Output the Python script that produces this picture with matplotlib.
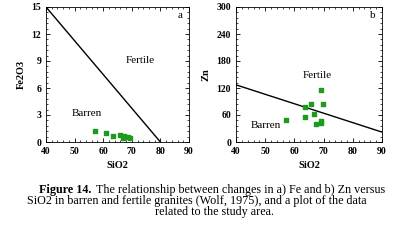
import matplotlib
matplotlib.use("Agg")
import matplotlib.pyplot as plt
from matplotlib.ticker import AutoMinorLocator

plt.rcParams['font.family'] = ['Liberation Serif', 'DejaVu Serif']

# panel a: Fe2O3 vs SiO2
fe_sio2 = [57, 61, 63.5, 65.7, 66.8, 67.2, 68.8, 69.3]
fe_vals = [1.2, 1.0, 0.7, 0.75, 0.5, 0.7, 0.6, 0.45]
fe_line_x = [40, 80]
fe_line_y = [15, 0]

# panel b: Zn vs SiO2
zn_sio2 = [57, 63.5, 63.5, 65.8, 66.8, 67.3, 69, 69.2, 69.2, 69.8]
zn_vals = [50, 77, 55, 85, 63, 39, 115, 46, 42, 85]
zn_line_x = [40, 90]
zn_line_y = [127, 22]

fig = plt.figure(figsize=(4.06, 2.41), dpi=100)
W, H = 406, 241

def style(ax):
    ax.tick_params(which='both', direction='in', top=True, right=True, labelsize=7)
    ax.tick_params(which='major', length=3, width=0.6)
    ax.tick_params(which='minor', length=1.5, width=0.5)
    ax.xaxis.set_minor_locator(AutoMinorLocator(5))
    ax.yaxis.set_minor_locator(AutoMinorLocator(5))
    for lab in ax.get_xticklabels() + ax.get_yticklabels():
        lab.set_fontweight('bold')
    for s in ax.spines.values():
        s.set_linewidth(0.6)

axa = fig.add_axes([46 / W, 1 - 142 / H, 143 / W, 135 / H])
axa.plot(fe_line_x, fe_line_y, color='black', lw=1)
axa.scatter(fe_sio2, fe_vals, marker='s', s=12, color='#1e9a1e', zorder=3)
axa.set_xlim(40, 90)
axa.set_ylim(0, 15)
axa.set_xticks([40, 50, 60, 70, 80, 90])
axa.set_yticks([0, 3, 6, 9, 12, 15])
axa.set_xlabel('SiO2', fontsize=7.5, fontweight='bold')
axa.set_ylabel('Fe2O3', fontsize=7.5, fontweight='bold')
axa.text(68, 8.8, 'Fertile', fontsize=8)
axa.text(49, 2.9, 'Barren', fontsize=8)
axa.text(0.92, 0.92, 'a', transform=axa.transAxes, fontsize=8)
style(axa)

axb = fig.add_axes([236 / W, 1 - 142 / H, 146 / W, 135 / H])
axb.plot(zn_line_x, zn_line_y, color='black', lw=1)
axb.scatter(zn_sio2, zn_vals, marker='s', s=12, color='#1e9a1e', zorder=3)
axb.set_xlim(40, 90)
axb.set_ylim(0, 300)
axb.set_xticks([40, 50, 60, 70, 80, 90])
axb.set_yticks([0, 60, 120, 180, 240, 300])
axb.set_xlabel('SiO2', fontsize=7.5, fontweight='bold')
axb.set_ylabel('Zn', fontsize=7.5, fontweight='bold')
axb.text(63, 142, 'Fertile', fontsize=8)
axb.text(45, 30, 'Barren', fontsize=8)
axb.text(0.92, 0.92, 'b', transform=axb.transAxes, fontsize=8)
style(axb)

# caption
cap_fs = 8.7
t1 = fig.text(39 / W, 1 - 190 / H, 'Figure 14.', fontsize=cap_fs, fontweight='bold', va='center')
renderer = fig.canvas.get_renderer()
bb = t1.get_window_extent(renderer)
fig.text((bb.x1 + 5) / W, 1 - 190 / H,
         'The relationship between changes in a) Fe and b) Zn versus',
         fontsize=cap_fs, va='center')
fig.text(27 / W, 1 - 201 / H,
         'SiO2 in barren and fertile granites (Wolf, 1975), and a plot of the data',
         fontsize=cap_fs, va='center')
fig.text(214 / W, 1 - 212 / H, 'related to the study area.',
         fontsize=cap_fs, va='center', ha='center')

fig.savefig('out.png', dpi=100)
